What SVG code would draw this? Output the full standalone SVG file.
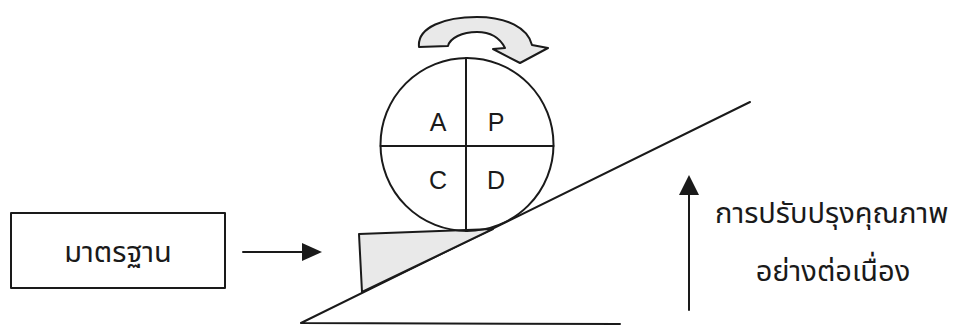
<svg xmlns="http://www.w3.org/2000/svg" width="955" height="326" viewBox="0 0 955 326">
<style>
.ln{fill:none;stroke:#1a1a1a;stroke-width:2;stroke-linecap:round;stroke-linejoin:round}
.sh{fill:#e9e9e9;stroke:#1a1a1a;stroke-width:2;stroke-linejoin:round}
.lat{font-family:"Liberation Sans",Arial,sans-serif;font-size:25px;fill:#1a1a1a;text-anchor:middle}
.th{font-family:"Noto Sans Thai","Noto Sans","DejaVu Sans",sans-serif;font-size:29px;fill:#1a1a1a}
.ah{fill:#1a1a1a;stroke:none}
</style>
<rect width="955" height="326" fill="#ffffff"/>
<g id="slope">
<path class="ln" d="M750,102 L301,323 L620,324"/>
</g>
<g id="wedge">
<path class="sh" d="M359,234 L493,229 L362,292 Z"/>
</g>
<g id="pdca">
<circle class="ln" cx="467" cy="144.5" r="86.5"/>
<line class="ln" x1="466" y1="58" x2="466" y2="231"/>
<line class="ln" x1="380.5" y1="146" x2="553.5" y2="146"/>
<text class="lat" x="438" y="131">A</text>
<text class="lat" x="496" y="131">P</text>
<text class="lat" x="438" y="189">C</text>
<text class="lat" x="496" y="189">D</text>
</g>
<g id="rotate-arrow">
<path class="sh" d="M419,47 C417,27 445,17 477,17 C507,17 528,28 532,45 L548,48 L520,63 L493,49 L505,48 C500,38 490,32 477,32 C462,32 450,38 448,46 Z"/>
</g>
<g id="standard-box">
<rect class="ln" x="11" y="213" width="214" height="75"/>
<text class="th" x="118" y="262" text-anchor="middle">มาตรฐาน</text>
</g>
<g id="improve-label">
<text class="th" x="715" y="223">การปรับปรุงคุณภาพ</text>
<text class="th" x="833" y="281" text-anchor="middle">อย่างต่อเนื่อง</text>
</g>
<g id="connectors">
<line class="ln" x1="243" y1="252" x2="304" y2="252"/>
<polygon class="ah" points="302,243 322,252 302,261"/>
<line class="ln" x1="689" y1="310" x2="689" y2="192"/>
<polygon class="ah" points="679,195 689,175 699,195"/>
</g>
</svg>
